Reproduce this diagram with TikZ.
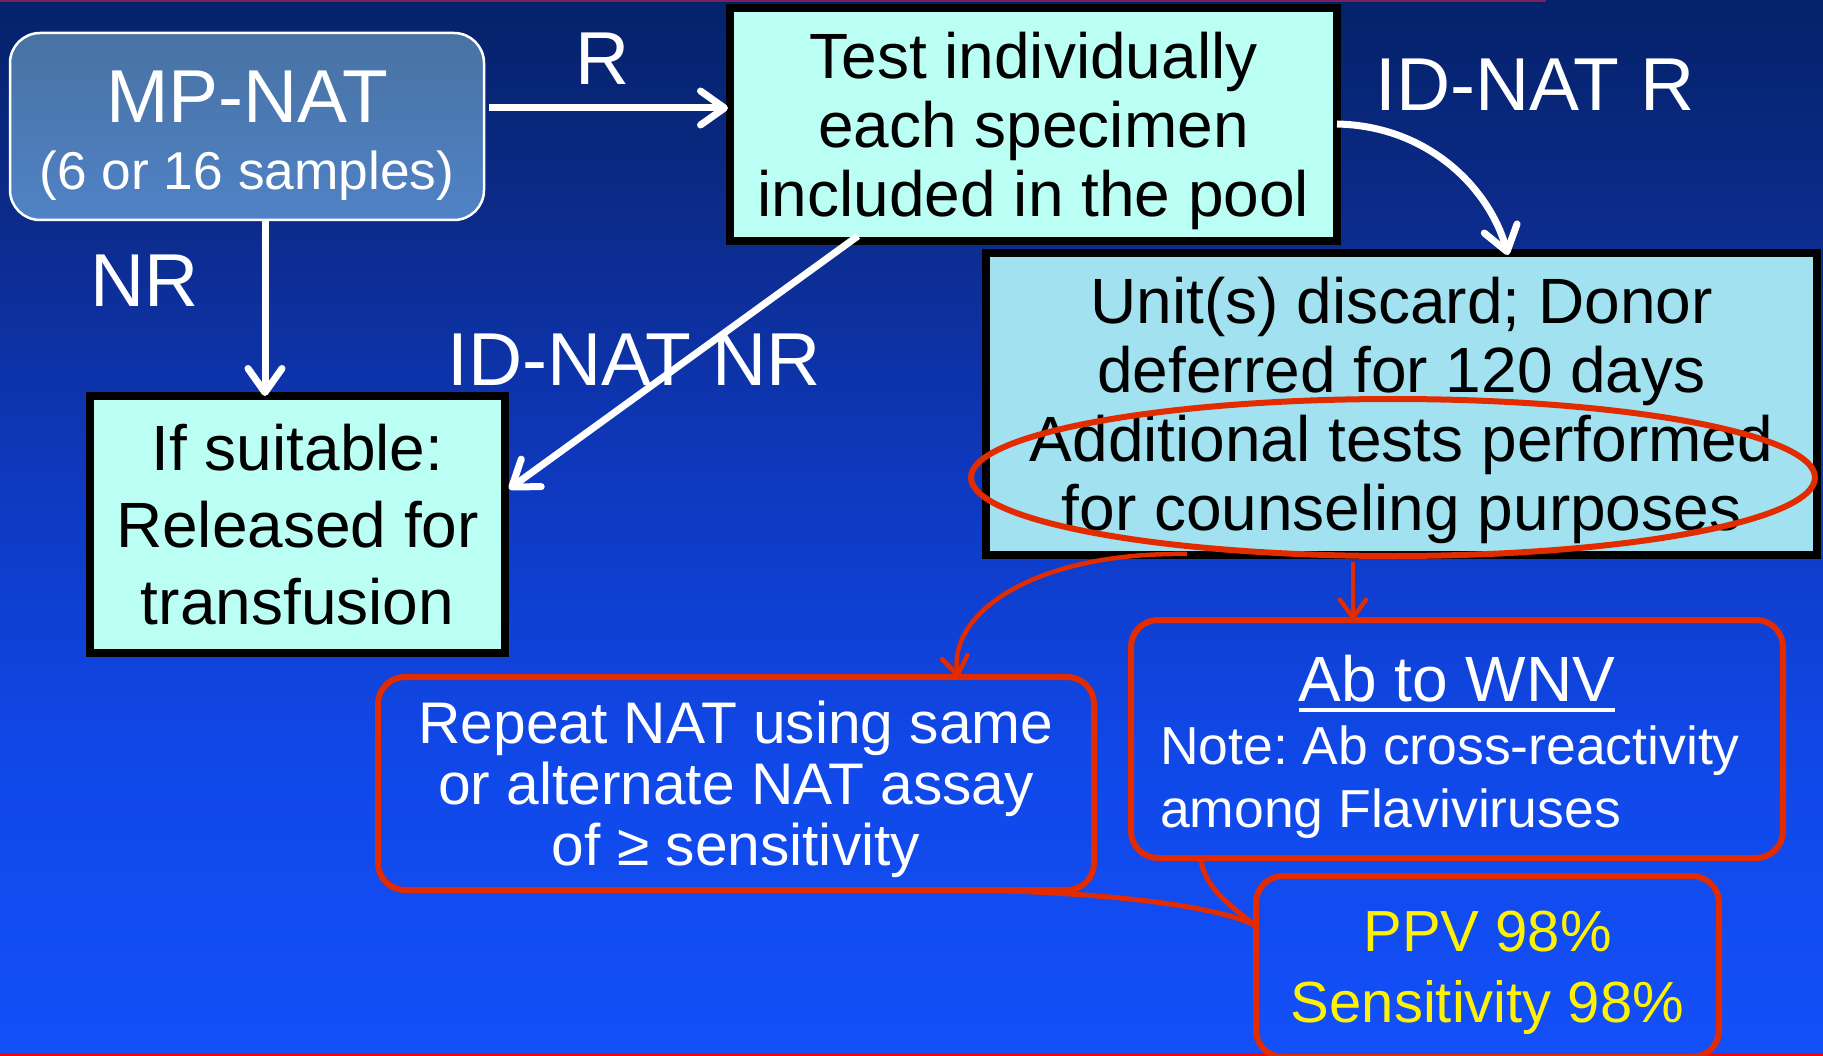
\documentclass[tikz,border=0pt]{standalone}
\usepackage{fontspec}
\setmainfont{Liberation Sans}
\usetikzlibrary{arrows.meta,shapes.geometric}
\definecolor{bgA}{RGB}{4,34,106}
\definecolor{bgB}{RGB}{12,42,135}
\definecolor{bgC}{RGB}{14,58,195}
\definecolor{bgD}{RGB}{16,72,232}
\definecolor{bgE}{RGB}{20,80,248}
\definecolor{cyanbox}{HTML}{BBFFF4}
\definecolor{bluebox}{HTML}{A2E1EF}
\definecolor{mpTop}{HTML}{4872A3}
\definecolor{mpBot}{HTML}{5082C6}
\definecolor{hired}{HTML}{E32B00}
\definecolor{topline}{HTML}{7A2060}
\newcommand\Tp{\rule{0pt}{0.966em}}
\newcommand\Bt{\rule[-0.25em]{0pt}{0.25em}}
\frenchspacing
\begin{document}
\frenchspacing
\begin{tikzpicture}[x=1pt,y=-1pt,
  every node/.style={outer sep=0pt},
  whitearrow/.style={draw=white,line width=7pt,-{Straight Barb[length=24pt,width=34pt,line width=7pt,round]}},
  redarrow/.style={draw=hired,line width=4.5pt,-{Straight Barb[length=18pt,width=26pt,line width=4.5pt,round]}},
  callout/.style={draw=hired,line width=5pt},
  blackbox/.style={draw=black,line width=8pt,inner sep=0pt,align=center,text=black},
  redbox/.style={draw=hired,line width=6pt,rounded corners=27pt,inner sep=0pt,align=center},
  lbl/.style={text=white,inner sep=0pt,font=\fontsize{75}{80}\selectfont},
]
\useasboundingbox (0,0) rectangle (1823,1056);
% background
\shade[top color=bgA,bottom color=bgB] (0,0) rectangle (1823,201);
\shade[top color=bgB,bottom color=bgC] (0,200) rectangle (1823,501);
\shade[top color=bgC,bottom color=bgD] (0,500) rectangle (1823,761);
\shade[top color=bgD,bottom color=bgE] (0,760) rectangle (1823,1056);
\fill[topline] (0,0) rectangle (1546,2.5);
\fill[red] (0,1052.5) rectangle (1823,1056);

% boxes
\node[draw=white,line width=2.5pt,rounded corners=30pt,top color=mpTop,bottom color=mpBot,
      minimum width=474pt,minimum height=187pt,inner sep=0pt,align=center,text=white,
      font=\fontsize{75}{67}\selectfont] (mp) at (247,126.5)
  {\Tp MP-NAT\\{\fontsize{53.3}{67}\selectfont (6 or 16 samples)\Bt}};

\node[blackbox,fill=cyanbox,minimum width=607pt,minimum height=233pt,
      font=\fontsize{64}{69}\selectfont] (test) at (1033.5,124.5)
  {\Tp Test individually\\each specimen\\included in the pool\Bt};

\node[blackbox,fill=cyanbox,minimum width=415pt,minimum height=257pt,
      font=\fontsize{64}{77}\selectfont] (suit) at (297.5,524.5)
  {\Tp If suitable:\\Released for\\transfusion\Bt};

\node[blackbox,fill=bluebox,minimum width=831pt,minimum height=302pt,
      font=\fontsize{64}{69}\selectfont] (unit) at (1401.5,404)
  {\Tp Unit(s) discard; Donor\\deferred for 120 days\\Additional tests performed\\for counseling purposes\Bt};

\node[draw=hired,line width=6pt,ellipse,minimum width=844pt,minimum height=157pt,inner sep=0pt] (hl) at (1393,477.5) {};

\node[redbox,minimum width=716pt,minimum height=213pt,text=white,
      font=\fontsize{58.7}{61}\selectfont] (rep) at (736,783.5)
  {\Tp Repeat NAT using same\\or alternate NAT assay\\of ≥ sensitivity\Bt};

\node[redbox,minimum width=652pt,minimum height=238pt] (ab) at (1457,739) {};
\node[text=white,inner sep=0pt,font=\fontsize{64}{70}\selectfont] (abt) at (1457,679) {Ab to WNV};
\draw[white,line width=4pt] ([yshift=-7pt]abt.south west) -- ([yshift=-7pt]abt.south east);
\node[text=white,inner sep=0pt,anchor=west,align=left,font=\fontsize{53.5}{63}\selectfont] (abn) at (1160,776.5)
  {\Tp Note: Ab cross-reactivity\\among Flaviviruses\Bt};

\node[redbox,minimum width=463pt,minimum height=181pt,text=yellow,
      font=\fontsize{58}{71}\selectfont] (ppv) at (1487.5,966.5)
  {\Tp PPV 98\%\\Sensitivity 98\%\Bt};

% labels
\node[lbl] (lR) at (603,59) {R};
\node[lbl] (lNR) at (145,281) {NR};
\node[lbl] (lIDR) at (1535,85) {ID-NAT R};
\node[lbl] (lIDNR) at (634,360) {ID-NAT NR};

% white connectors
\draw[whitearrow] ([xshift=5pt,yshift=18.5pt]mp.east) -- ([xshift=-2pt,yshift=16.5pt]test.west);
\draw[whitearrow] ([xshift=18pt]mp.south) -- ([xshift=18pt]mp.south |- suit.north);
\draw[whitearrow] ([xshift=-175.5pt,yshift=5pt]test.south) -- ([xshift=4pt,yshift=35.5pt]suit.east);
\draw[whitearrow] ([yshift=0.5pt]test.east) .. controls +(93,2) and +(-18,-65) .. ([xshift=106.5pt,yshift=-2pt]unit.north);

% red connectors
\draw[redarrow] ([xshift=-48.5pt,yshift=-7pt]unit.south) -- ([xshift=-48.5pt]unit.south |- ab.north);
\draw[redarrow] ([xshift=-214.5pt,yshift=1pt]unit.south) .. controls +(-157,-2) and +(-10,-62) .. ([xshift=222pt]rep.north);
\draw[callout] ([xshift=-257pt]ab.south) .. controls +(6,32) and +(-26,-21) .. ([yshift=40.5pt]ppv.west);
\draw[callout] ([xshift=217pt]rep.south) .. controls +(147,1) and +(-36,-20) .. ([yshift=40.5pt]ppv.west);
\end{tikzpicture}
\end{document}
